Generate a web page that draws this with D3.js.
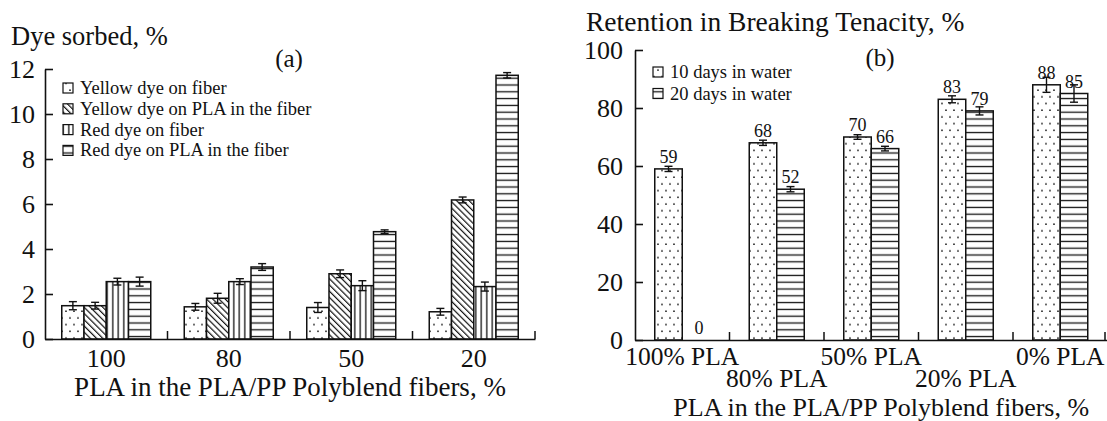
<!DOCTYPE html>
<html>
<head>
<meta charset="utf-8">
<script src="https://cdn.jsdelivr.net/npm/d3@7"></script>
<style>
  html, body { margin: 0; padding: 0; background: #fff; }
  svg { display: block; font-family: "Liberation Serif", "Times New Roman", serif; }
  text { fill: #111; font-family: "Liberation Serif", "Times New Roman", serif; }
</style>
</head>
<body>
<svg id="chart" width="1107" height="421"></svg>
<script>
// ---- Panel (a): dye sorbed by PLA content ----
const blendLevels = ["100", "80", "50", "20"];
const dyeSeries = ["Yellow dye on fiber", "Yellow dye on PLA in the fiber", "Red dye on fiber", "Red dye on PLA in the fiber"];
const yellowOnFiber = [1.48, 1.43, 1.40, 1.21];
const yellowOnPLA   = [1.48, 1.81, 2.90, 6.18];
const redOnFiber    = [2.55, 2.55, 2.37, 2.33];
const redOnPLA      = [2.55, 3.20, 4.77, 11.72];
const yellowOnFiberErr = [0.18, 0.15, 0.22, 0.15];
const yellowOnPLAErr   = [0.15, 0.22, 0.17, 0.13];
const redOnFiberErr    = [0.15, 0.13, 0.22, 0.20];
const redOnPLAErr      = [0.20, 0.15, 0.08, 0.12];
const dyeTicks = [0, 2, 4, 6, 8, 10, 12];

// ---- Panel (b): retention in breaking tenacity ----
const blendNames = ["100% PLA", "80% PLA", "50% PLA", "20% PLA", "0% PLA"];
const soakSeries = ["10 days in water", "20 days in water"];
const tenDays    = [59, 68, 70, 83, 88];
const twentyDays = [0, 52, 66, 79, 85];
const tenDaysErr    = [0.9, 0.9, 0.8, 1.2, 2.6];
const twentyDaysErr = [0, 0.9, 0.8, 1.4, 3.0];
const retentionTicks = [0, 20, 40, 60, 80, 100];

const svg = d3.select("#chart");
const ink = "#111";
const serif = "Liberation Serif, Times New Roman, serif";

// ---- fill patterns ----
const defs = svg.append("defs");
function pat(id, w, h) {
  return defs.append("pattern").attr("id", id)
    .attr("patternUnits", "userSpaceOnUse").attr("width", w).attr("height", h);
}
const pDots = pat("dots", 8, 13.4);
pDots.append("rect").attr("width", 8).attr("height", 13.4).attr("fill", "#fff");
pDots.append("circle").attr("cx", 2).attr("cy", 3).attr("r", 0.85).attr("fill", ink);
pDots.append("circle").attr("cx", 6).attr("cy", 9.7).attr("r", 0.85).attr("fill", ink);

const pDiag = pat("diag", 4.4, 4.4).attr("patternTransform", "rotate(-45)");
pDiag.append("rect").attr("width", 4.4).attr("height", 4.4).attr("fill", "#fff");
pDiag.append("line").attr("x1", 0.6).attr("y1", 0).attr("x2", 0.6).attr("y2", 4.4)
  .attr("stroke", ink).attr("stroke-width", 1.2);

const pVert = pat("vert", 5.5, 10);
pVert.append("rect").attr("width", 5.5).attr("height", 10).attr("fill", "#fff");
pVert.append("line").attr("x1", 2.75).attr("y1", 0).attr("x2", 2.75).attr("y2", 10)
  .attr("stroke", ink).attr("stroke-width", 1.3);

const pHorz = pat("horz", 10, 6.8);
pHorz.append("rect").attr("width", 10).attr("height", 6.8).attr("fill", "#fff");
pHorz.append("line").attr("x1", 0).attr("y1", 3.4).attr("x2", 10).attr("y2", 3.4)
  .attr("stroke", ink).attr("stroke-width", 1.3);

// Draws a grouped bar panel with error bars, inward ticks and group separators.
function drawPanel(cfg) {
  const g = svg.append("g").attr("font-family", serif);
  const x0 = d3.scaleBand().domain(cfg.categories).range(cfg.xRange).paddingInner(0).paddingOuter(0);
  const inner = cfg.barWidth * cfg.series.length;
  const x1 = d3.scaleBand().domain(cfg.series).range([0, inner]);
  const offset = (x0.bandwidth() - inner) / 2;
  const y = d3.scaleLinear().domain([0, cfg.yMax]).range(cfg.yRange);

  // bars
  cfg.series.forEach((s, si) => {
    const vals = cfg.values[si], errs = cfg.errors[si];
    cfg.categories.forEach((c, ci) => {
      const bx = x0(c) + offset + x1(s);
      const v = vals[ci];
      g.append("rect")
        .attr("x", bx).attr("y", y(v))
        .attr("width", x1.bandwidth()).attr("height", y(0) - y(v))
        .attr("fill", `url(#${cfg.fills[si]})`)
        .attr("stroke", ink).attr("stroke-width", v === 0 ? 2.5 : 1.5);
      const e = errs[ci];
      if (e > 0) {
        const cx = bx + x1.bandwidth() / 2;
        const eg = g.append("g").attr("stroke", ink).attr("stroke-width", 1.4);
        eg.append("line").attr("x1", cx).attr("x2", cx).attr("y1", y(v + e)).attr("y2", y(v - e));
        eg.append("line").attr("x1", cx - 4).attr("x2", cx + 4).attr("y1", y(v + e)).attr("y2", y(v + e));
        eg.append("line").attr("x1", cx - 4).attr("x2", cx + 4).attr("y1", y(v - e)).attr("y2", y(v - e));
      }
      if (cfg.valueLabels) {
        g.append("text")
          .attr("x", bx + x1.bandwidth() / 2 + (v === 0 ? 3 : 0)).attr("y", y(v) - 6)
          .attr("text-anchor", "middle").attr("font-size", 18)
          .text(v);
      }
    });
  });

  // y axis with inward ticks
  const ya = g.append("g").attr("transform", `translate(${cfg.xRange[0]},0)`)
    .call(d3.axisLeft(y).tickValues(cfg.yTicks).tickSize(-8).tickSizeOuter(0).tickPadding(cfg.yPad));
  ya.attr("font-family", serif).attr("font-size", 26);
  ya.selectAll("path, line").attr("stroke", ink).attr("stroke-width", 1.6);
  ya.selectAll("text").attr("fill", ink);

  // x axis: baseline, category labels, separator ticks at group boundaries
  const xa = g.append("g").attr("transform", `translate(0,${cfg.yRange[0]})`)
    .call(d3.axisBottom(x0).tickSize(0).tickSizeOuter(0));
  xa.attr("font-family", serif).attr("font-size", cfg.xTickSize);
  xa.select(".domain").attr("stroke", ink).attr("stroke-width", 1.6);
  xa.selectAll("text").attr("fill", ink)
    .attr("dy", 0).attr("y", (d, i) => cfg.labelRows[i % cfg.labelRows.length]);
  cfg.categories.forEach(c => {
    const bx = Math.min(x0(c) + x0.step(), 1105);
    g.append("line").attr("x1", bx).attr("x2", bx)
      .attr("y1", cfg.yRange[0]).attr("y2", cfg.yRange[0] - 8)
      .attr("stroke", ink).attr("stroke-width", 1.5);
  });

  // legend
  cfg.series.forEach((s, si) => {
    const ly = cfg.legend.y + si * cfg.legend.dy;
    g.append("rect").attr("x", cfg.legend.x).attr("y", ly - 5).attr("width", 10).attr("height", 10)
      .attr("fill", `url(#${cfg.fills[si]})`).attr("stroke", ink).attr("stroke-width", 1.2);
    g.append("text").attr("x", cfg.legend.x + 17).attr("y", ly + 6)
      .attr("font-size", 18.5).text(s);
  });

  // titles
  g.append("text").attr("x", cfg.title.x).attr("y", cfg.title.y).attr("font-size", cfg.title.size).text(cfg.title.text);
  g.append("text").attr("x", cfg.tag.x).attr("y", cfg.tag.y).attr("text-anchor", "middle")
    .attr("font-size", 25).text(cfg.tag.text);
  g.append("text").attr("x", (cfg.xRange[0] + cfg.xRange[1]) / 2 + cfg.xTitleDx).attr("y", cfg.xTitleY)
    .attr("text-anchor", "middle").attr("font-size", cfg.xTitleSize).text("PLA in the PLA/PP Polyblend fibers, %");
}

drawPanel({
  categories: blendLevels, series: dyeSeries,
  values: [yellowOnFiber, yellowOnPLA, redOnFiber, redOnPLA],
  errors: [yellowOnFiberErr, yellowOnPLAErr, redOnFiberErr, redOnPLAErr],
  fills: ["dots", "diag", "vert", "horz"],
  xRange: [45, 535], yRange: [339, 69], yMax: 12, yTicks: dyeTicks, yPad: 10,
  barWidth: 22.25, valueLabels: false, labelRows: [28], xTickSize: 26,
  legend: { x: 63, y: 88, dy: 20.8 },
  title: { x: 11, y: 45, size: 26.5, text: "Dye sorbed, %" },
  tag: { x: 289, y: 67, text: "(a)" },
  xTitleY: 396, xTitleDx: 0, xTitleSize: 27
});

drawPanel({
  categories: blendNames, series: soakSeries,
  values: [tenDays, twentyDays],
  errors: [tenDaysErr, twentyDaysErr],
  fills: ["dots", "horz"],
  xRange: [635, 1107.5], yRange: [340, 50], yMax: 100, yTicks: retentionTicks, yPad: 12,
  barWidth: 27.5, valueLabels: true, labelRows: [25, 47], xTickSize: 25.5,
  legend: { x: 653, y: 72, dy: 21.5 },
  title: { x: 586, y: 31, size: 27.5, text: "Retention in Breaking Tenacity, %" },
  tag: { x: 880, y: 66, text: "(b)" },
  xTitleY: 416, xTitleDx: 10, xTitleSize: 26
});
</script>
</body>
</html>
